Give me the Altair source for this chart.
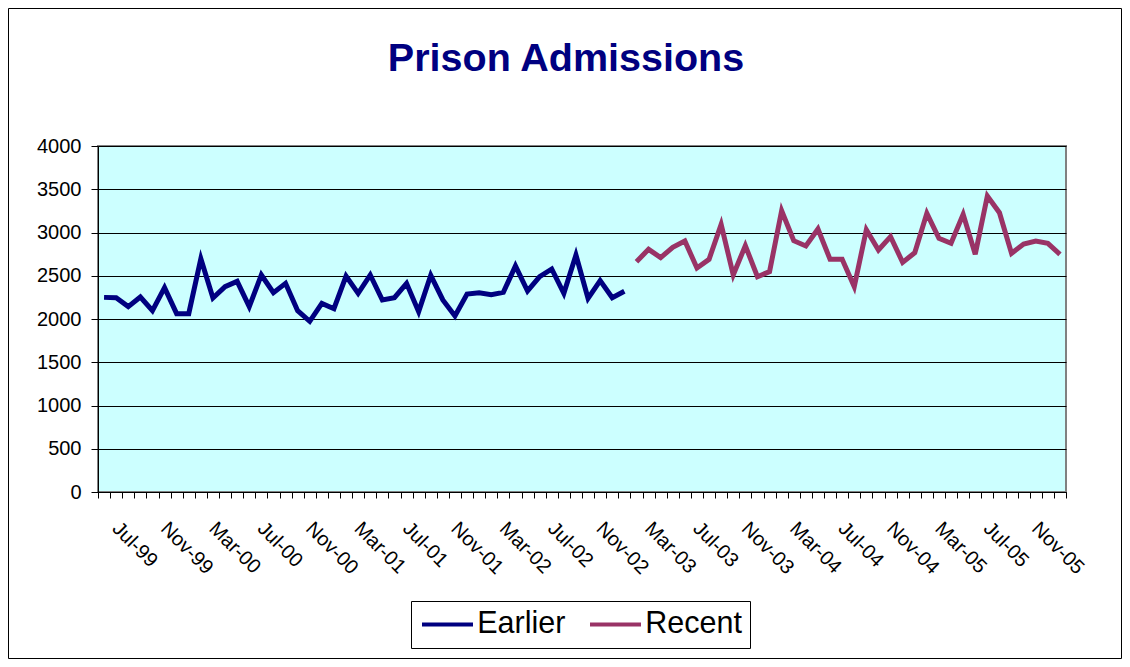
import altair as alt
import pandas as pd

# ---- data ----
start_month = "1999-07-01"
n_months = 80

earlier = [2250, 2245, 2143, 2254, 2096, 2362, 2062, 2062, 2697, 2243,
           2374, 2435, 2143, 2509, 2304, 2412, 2096, 1973, 2181, 2119,
           2497, 2297, 2509, 2220, 2246, 2412, 2085, 2505, 2220, 2035,
           2289, 2304, 2281, 2308, 2613, 2324, 2489, 2578, 2297, 2740,
           2239, 2443, 2245, 2320]

recent = [2663, 2805, 2709, 2829, 2902, 2590, 2690, 3094, 2509, 2848,
          2489, 2547, 3252, 2905, 2844, 3040, 2690, 2690, 2374, 3032,
          2798, 2952, 2655, 2767, 3222, 2933, 2875, 3210, 2748, 3422,
          3229, 2759, 2867, 2902, 2875, 2748]

series_names = ["Earlier", "Recent"]
series_colors = ["#000080", "#993366"]

tick_labels = ["Jul-99", "Nov-99", "Mar-00", "Jul-00", "Nov-00", "Mar-01",
               "Jul-01", "Nov-01", "Mar-02", "Jul-02", "Nov-02", "Mar-03",
               "Jul-03", "Nov-03", "Mar-04", "Jul-04", "Nov-04", "Mar-05",
               "Jul-05", "Nov-05"]

y_ticks = [0, 500, 1000, 1500, 2000, 2500, 3000, 3500, 4000]

# ---- table ----
months = pd.date_range(start_month, periods=n_months, freq="MS")
values = earlier + recent
series = ["Earlier"] * len(earlier) + ["Recent"] * len(recent)
df = pd.DataFrame({
    "month": [m.strftime("%b-%y") for m in months],
    "pos": [i + 0.5 for i in range(n_months)],
    "value": values,
    "series": series,
})

label_array = "[" + ",".join("'" + t + "'" for t in tick_labels) + "]"
label_expr = ("(datum.value % 4 == 0 && datum.value < " + str(n_months) + ") ? "
              + label_array + "[datum.value / 4] : ''")

FONT = "Liberation Sans, Arial, sans-serif"

W, H = 968, 346
PAD = {"left": 90, "top": 138, "right": 1114 - 90 - W, "bottom": 651 - 138 - H}

lines = alt.Chart(df).mark_line(strokeWidth=5, clip=False).encode(
    x=alt.X("pos:Q",
            scale=alt.Scale(domain=[0, n_months], nice=False, zero=False),
            axis=alt.Axis(values=list(range(n_months + 1)), labelExpr=label_expr,
                          title=None, grid=False, tickSize=6, tickColor="black",
                          domainColor="black", domainWidth=1,
                          labelAngle=45, labelAlign="left", labelBaseline="middle",
                          labelOffset=17, labelPadding=27, labelFontSize=20,
                          labelFont=FONT, labelColor="black",
                          labelOverlap=False, labelFlush=False)),
    y=alt.Y("value:Q",
            scale=alt.Scale(domain=[0, 4000], nice=False),
            axis=alt.Axis(values=y_ticks, format="d", title=None, grid=True,
                          gridColor="black", gridOpacity=1, gridWidth=1, tickSize=7,
                          tickColor="black", domainColor="black", domainWidth=1,
                          labelPadding=10, labelFontSize=20, labelFont=FONT,
                          labelColor="black")),
    color=alt.Color("series:N",
                    scale=alt.Scale(domain=series_names, range=series_colors),
                    legend=alt.Legend(title=None, orient="none", legendX=313, legendY=455,
                                      direction="horizontal", symbolType="M-2,0H2",
                                      symbolSize=650, symbolStrokeWidth=4,
                                      symbolOffset=13.25,
                                      labelFontSize=30.5, labelFont=FONT, labelColor="black",
                                      labelOffset=14.5, columnPadding=16, padding=8,
                                      strokeColor="black", fillColor="white")),
)

border = alt.Chart(pd.DataFrame({"k": [0]})).mark_rect(
    filled=False, stroke="black", strokeWidth=1, clip=False
).encode(
    x=alt.value(-89.5), x2=alt.value(W + PAD["right"] - 0.5),
    y=alt.value(-137.5), y2=alt.value(H + PAD["bottom"] - 0.5),
)

chart = alt.layer(border, lines).properties(
    width=W, height=H,
    autosize=alt.AutoSizeParams(type="none"),
    padding=PAD,
    title=alt.TitleParams("Prison Admissions", fontSize=39.5, fontWeight="bold",
                          color="#000080", font=FONT, anchor="middle", frame="group",
                          baseline="alphabetic", offset=-102.4, dx=-16),
    background="white",
).configure_view(fill="#CCFFFF", stroke="#808080", strokeWidth=2)

chart.save("out.html", embed_options={"renderer": "svg", "actions": False})
